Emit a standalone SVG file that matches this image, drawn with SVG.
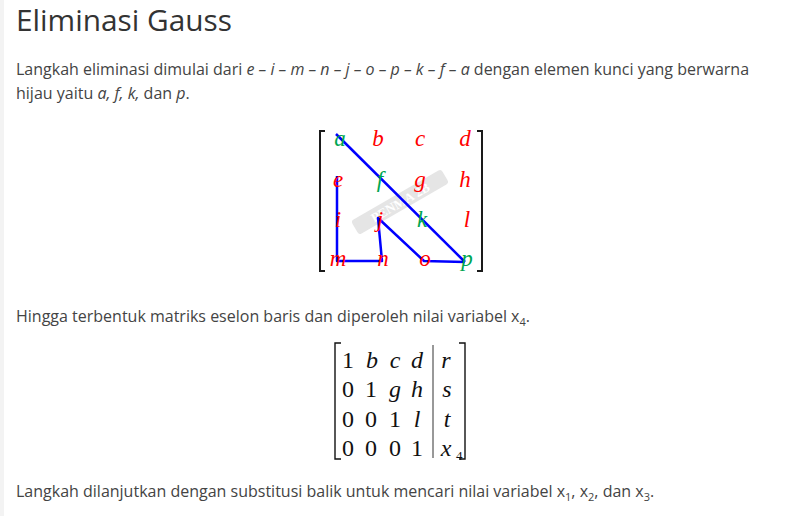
<svg xmlns="http://www.w3.org/2000/svg" width="787" height="516" viewBox="0 0 787 516">
<style>
.p{font-family:"Open Sans",sans-serif;font-size:16px;fill:#444}
.i{font-style:italic}
.m{font-family:"Liberation Serif",serif;font-style:italic;font-size:23px;text-anchor:middle}
.r{fill:#f00}.g{fill:#00a651}
.bl{stroke:#0000ff;stroke-width:2.5;fill:none;stroke-linejoin:round}
.br{stroke:#1a1a1a;stroke-width:2;fill:none}
.t{font-family:"Liberation Serif",serif;font-size:24px;text-anchor:middle;fill:#111}
.ti{font-style:italic}
</style>
<rect width="787" height="516" fill="#fff"/>
<rect width="4" height="516" fill="#f3f3f3"/>
<text x="16" y="31" font-family="Open Sans, sans-serif" font-size="29" fill="#333" textLength="216" lengthAdjust="spacingAndGlyphs">Eliminasi Gauss</text>
<text class="p" x="16" y="75">Langkah eliminasi dimulai dari <tspan class="i">e – i – m – n – j – o – p – k – f – a</tspan> dengan elemen kunci yang berwarna</text>
<text class="p" x="16" y="99">hijau yaitu <tspan class="i">a, f, k,</tspan> dan <tspan class="i">p</tspan>.</text>

<g id="matrix1">
<g id="watermark" transform="rotate(-30 400 202)" opacity="0.55">
<rect x="348" y="194" width="104" height="16" rx="3" fill="#d0d0d0"/>
<text x="400" y="207" font-family="Liberation Serif, serif" font-size="13" font-weight="bold" fill="#fff" text-anchor="middle">PENMA 2B</text>
</g>
<path class="br" d="M325,131 H320 V271 H325"/>
<path class="br" d="M477,131 H482 V271 H477"/>
<g id="connectors">
<polyline class="bl" points="336,134 465,262"/>
<polyline class="bl" points="337,176 337,261 382,261 378,218 424,261 465,262"/>
</g>
<g class="m">
<text class="g" x="340" y="146">a</text><text class="r" x="378" y="146">b</text><text class="r" x="420" y="146">c</text><text class="r" x="465" y="146">d</text>
<text class="r" x="338" y="187">e</text><text class="g" x="380" y="187">f</text><text class="r" x="420" y="187">g</text><text class="r" x="465" y="187">h</text>
<text class="r" x="338" y="227">i</text><text class="r" x="380" y="227">j</text><text class="g" x="422" y="227">k</text><text class="r" x="467" y="227">l</text>
<text class="r" x="338" y="266">m</text><text class="r" x="383" y="266">n</text><text class="r" x="425" y="266">o</text><text class="g" x="467" y="266">p</text>
</g>
</g>

<text class="p" x="16" y="322">Hingga terbentuk matriks eselon baris dan diperoleh nilai variabel x<tspan font-size="11" dy="4">4</tspan><tspan dy="-4">.</tspan></text>

<g id="matrix2">
<path d="M341,343 H335 V459 H341" stroke="#111" stroke-width="1.4" fill="none"/>
<path d="M459,343 H465 V459 H459" stroke="#111" stroke-width="1.4" fill="none"/>
<line x1="433" y1="345" x2="433" y2="458" stroke="#333" stroke-width="1"/>
<g class="t">
<text x="348" y="368">1</text><text class="ti" x="372" y="368">b</text><text class="ti" x="395" y="368">c</text><text class="ti" x="417" y="368">d</text><text class="ti" x="446" y="368">r</text>
<text x="348" y="397">0</text><text x="371" y="397">1</text><text class="ti" x="395" y="397">g</text><text class="ti" x="417" y="397">h</text><text class="ti" x="447" y="397">s</text>
<text x="348" y="427">0</text><text x="371" y="427">0</text><text x="395" y="427">1</text><text class="ti" x="417" y="427">l</text><text class="ti" x="447" y="427">t</text>
<text x="348" y="456">0</text><text x="371" y="456">0</text><text x="395" y="456">0</text><text x="417" y="456">1</text>
<text class="ti" x="446" y="456">x</text><text x="456" y="460" font-size="13" text-anchor="start">4</text>
</g>
</g>

<text class="p" x="16" y="497">Langkah dilanjutkan dengan substitusi balik untuk mencari nilai variabel x<tspan font-size="11" dy="4">1</tspan><tspan dy="-4">, x</tspan><tspan font-size="11" dy="4">2</tspan><tspan dy="-4">, dan x</tspan><tspan font-size="11" dy="4">3</tspan><tspan dy="-4">.</tspan></text>
</svg>
